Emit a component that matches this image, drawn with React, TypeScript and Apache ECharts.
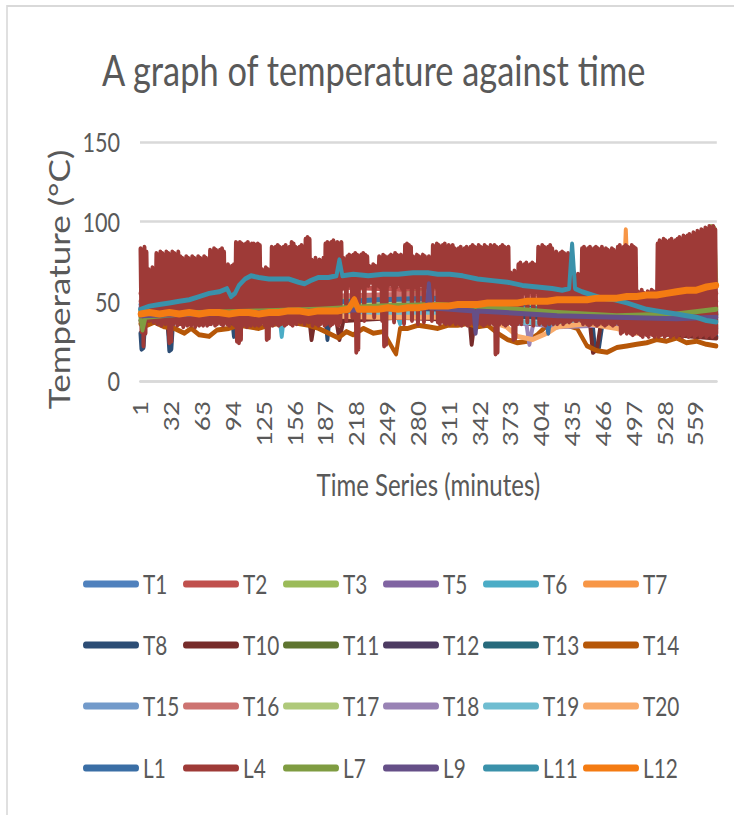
import React, { useEffect, useRef } from "react";
import * as echarts from "echarts";

// ---------- data ----------
const MINUTE_COUNT = 580;
const minutes: string[] = Array.from({ length: MINUTE_COUNT }, (_, i) => String(i + 1));
const yTicks = [0, 50, 100, 150];

type P = [number, number];

const T1: P[] = [[1,48],[20,49],[50,50],[80,51],[110,52],[140,51],[170,52],[200,53],[230,52],[260,53],[290,53],[320,52],[350,50],[380,45],[410,44],[440,46],[470,45],[500,44],[530,43],[560,42],[580,44]];
const T2: P[] = [[1,55],[40,56],[80,58],[120,57],[160,58],[200,59],[240,58],[280,57],[320,56],[360,55],[400,54],[440,53],[480,52],[520,53],[560,54],[580,55]];
const T3: P[] = [[1,38],[4,30],[8,42],[40,45],[80,47],[120,48],[160,49],[200,50],[240,53],[280,55],[320,55],[350,54],[380,44],[420,43],[460,45],[500,46],[540,47],[570,50],[575,97],[578,96],[580,60]];
const T5: P[] = [[1,46],[40,47],[90,46],[140,45],[190,46],[240,47],[290,48],[330,47],[337,35],[340,47],[380,42],[420,40],[460,41],[500,40],[540,39],[580,40]];
const T6: P[] = [[1,44],[40,45],[90,46],[140,45],[143,28],[146,45],[173,44],[175,38],[178,44],[220,45],[258,44],[262,36],[266,44],[300,46],[340,45],[380,40],[420,41],[460,40],[500,38],[540,37],[580,38]];
const T7: P[] = [[1,44],[50,45],[100,46],[150,45],[200,46],[250,47],[300,46],[350,45],[400,44],[450,45],[486,46],[489,95],[492,46],[520,45],[560,46],[580,47]];
const T8: P[] = [[1,30],[2,20],[4,21],[6,40],[28,40],[30,19],[32,20],[34,40],[93,40],[95,28],[97,40],[187,40],[189,26],[191,40],[250,42],[300,43],[350,42],[400,40],[455,40],[458,20],[462,21],[466,38],[520,36],[560,30],[580,28]];
const T10: P[] = [[1,38],[28,38],[30,26],[32,38],[97,38],[99,26],[101,38],[171,38],[173,26],[176,38],[198,38],[201,26],[205,38],[260,40],[300,39],[332,38],[334,23],[337,38],[400,36],[453,36],[456,18],[460,20],[464,36],[520,30],[560,28],[580,27]];
const T11: P[] = [[1,42],[60,44],[120,45],[180,46],[240,48],[300,49],[360,47],[420,44],[480,42],[540,41],[580,42]];
const T12: P[] = [[1,43],[60,42],[120,43],[180,44],[240,45],[300,46],[360,44],[420,42],[480,41],[540,40],[580,41]];
const T13: P[] = [[1,45],[60,46],[120,47],[180,48],[240,49],[300,50],[360,48],[420,46],[480,44],[540,42],[580,43]];
const T14: P[] = [[1,36],[8,35],[15,37],[25,34],[35,33],[45,30],[52,33],[60,29],[70,28],[78,32],[90,33],[100,35],[110,34],[120,33],[130,35],[140,36],[150,37],[160,36],[170,35],[180,33],[190,30],[200,27],[208,31],[215,29],[225,33],[235,30],[245,31],[255,20],[258,17],[262,33],[270,33],[280,35],[290,34],[300,33],[310,35],[320,35],[330,36],[340,34],[350,35],[360,30],[370,26],[380,24],[390,25],[400,29],[410,35],[420,34],[430,35],[440,33],[450,22],[460,19],[470,18],[480,21],[490,22],[500,23],[510,24],[520,26],[530,25],[540,27],[550,24],[560,25],[570,23],[580,22]];
const T15: P[] = [[1,46],[60,45],[120,46],[180,47],[240,48],[300,49],[360,47],[420,43],[480,40],[540,38],[580,39]];
const T16: P[] = [[1,50],[60,51],[120,52],[180,53],[240,54],[300,55],[360,53],[420,51],[480,50],[540,49],[580,50]];
const T17: P[] = [[1,44],[60,46],[120,47],[180,48],[240,50],[300,52],[360,51],[420,47],[480,45],[540,44],[580,46]];
const T18: P[] = [[1,42],[60,43],[120,44],[180,42],[240,43],[300,41],[350,38],[389,36],[392,23],[396,36],[420,34],[460,35],[500,33],[540,32],[580,33]];
const T19: P[] = [[1,43],[60,44],[120,45],[180,44],[240,43],[300,42],[350,40],[380,37],[420,36],[460,38],[500,36],[540,35],[580,34]];
const T20: P[] = [[1,42],[60,43],[120,42],[180,41],[240,40],[300,40],[350,38],[369,34],[380,28],[395,26],[410,30],[420,34],[450,36],[480,33],[500,30],[520,32],[540,34],[560,36],[580,35]];
const L1: P[] = [[1,45],[60,47],[120,48],[180,49],[240,51],[300,52],[340,48],[370,45],[380,44],[408,44],[411,30],[414,44],[446,42],[470,45],[500,44],[540,43],[580,42]];
// L4: every minute
const L4: number[] = [
  83,31,82,22,84,30,81,40,70,38, 69,39,71,37,70,41,80,36,79,38,
  81,35,80,37,78,36,81,38,80,24, 79,25,81,36,80,37,79,35,81,36,
  78,36,77,34,76,37,78,35,77,36, 76,35,78,37,77,34,76,36,78,35,
  77,36,76,35,78,37,77,35,76,36, 82,36,81,37,83,35,82,36,81,37,
  82,36,83,35,81,37,72,36,73,35, 71,37,72,36,73,35,87,25,86,24,
  87,26,86,35,85,36,86,34,87,36, 85,35,86,37,86,35,85,36,86,35,
  85,36,70,37,69,35,71,26,70,27, 69,36,84,35,83,37,84,36,85,35,
  84,36,83,37,84,35,85,36,83,37, 84,36,87,35,86,37,84,36,83,38,
  84,37,85,38,83,36,89,38,90,37, 89,38,76,35,75,37,77,36,74,35,
  76,36,75,37,77,35,86,36,87,37, 86,35,87,36,88,37,86,36,87,35,
  86,37,87,58,77,60,76,38,78,60, 79,61,78,40,79,60,80,18,79,20,
  78,60,79,59,80,38,79,61,78,60, 72,62,71,63,73,40,72,62,71,60,
  78,59,77,38,79,22,78,23,77,60, 78,61,79,60,78,37,80,59,79,61,
  78,60,79,58,78,36,85,60,86,59, 85,61,84,38,78,60,77,59,79,36,
  78,60,77,61,79,37,78,60,76,59, 78,61,77,38,85,60,84,59,86,37,
  85,36,84,38,85,37,86,36,84,37, 85,36,84,37,85,38,83,36,82,37,
  83,36,84,35,82,37,83,36,84,35, 82,36,84,37,85,36,84,35,83,36,
  85,37,84,36,83,35,85,36,84,37, 83,36,85,37,84,36,85,17,84,18,
  83,36,84,37,85,36,84,35,83,36, 84,37,68,36,67,26,69,27,68,36,
  73,56,74,36,72,58,73,55,74,37, 72,57,73,56,74,35,73,58,72,56,
  84,36,83,37,85,36,84,35,83,37, 84,36,85,37,83,36,80,37,81,36,
  79,37,80,38,81,36,80,37,79,38, 80,37,67,38,66,39,68,38,64,38,
  67,39,66,38,83,36,84,37,82,36, 83,35,84,36,82,37,83,36,84,35,
  83,36,82,37,84,36,82,35,83,36, 82,37,81,36,83,35,82,36,81,37,
  84,36,85,30,83,31,84,36,85,30, 84,31,83,30,85,29,84,30,83,31,
  56,30,55,29,57,28,55,30,54,29, 56,28,55,30,57,29,56,28,55,30,
  86,28,88,29,87,30,89,28,88,29, 87,30,88,28,89,29,87,30,88,28,
  89,29,90,30,88,28,91,29,90,30, 91,28,92,29,90,30,93,28,92,29,
  94,30,93,28,95,29,94,30,96,28, 95,29,97,30,96,28,97,29,95,30,
];
const L7: P[] = [[1,40],[3,32],[6,40],[60,43],[120,44],[180,45],[240,47],[300,48],[360,46],[420,43],[480,41],[540,42],[580,45]];
const L9: P[] = [[1,41],[60,42],[120,43],[180,44],[240,45],[289,46],[291,61],[293,46],[336,44],[338,30],[340,44],[420,41],[480,40],[540,39],[580,40]];
const L11: P[] = [[1,45],[10,47],[20,48],[30,49],[40,50],[50,51],[60,53],[70,55],[80,56],[88,58],[92,53],[96,55],[100,60],[106,64],[112,66],[120,65],[130,64],[140,64],[150,64],[160,62],[166,61],[172,63],[180,65],[190,65],[198,66],[201,76],[204,66],[215,67],[230,66],[245,67],[260,67],[275,68],[290,68],[300,67],[312,67],[325,66],[340,64],[355,63],[370,62],[385,60],[400,59],[415,58],[425,57],[432,58],[435,86],[438,58],[445,56],[455,54],[465,52],[478,51],[490,49],[500,47],[510,45],[520,44],[530,43],[540,42],[550,41],[560,40],[570,38],[580,37]];
const L12: P[] = [[1,42],[10,43],[20,42],[30,43],[40,42],[50,43],[60,42],[70,43],[80,43],[90,42],[100,43],[110,43],[120,42],[130,43],[140,43],[150,44],[160,44],[170,43],[180,44],[190,44],[200,44],[210,45],[216,51],[220,45],[230,45],[240,45],[250,46],[260,45],[270,46],[280,46],[290,47],[300,47],[310,47],[320,48],[330,48],[340,48],[350,49],[360,49],[370,49],[380,49],[390,50],[400,50],[410,50],[420,51],[430,51],[440,51],[450,51],[460,52],[470,52],[480,52],[490,53],[500,53],[510,54],[520,54],[530,55],[540,56],[550,57],[560,57],[570,59],[580,60]];

const seriesNames = ["T1","T2","T3","T5","T6","T7","T8","T10","T11","T12","T13","T14","T15","T16","T17","T18","T19","T20","L1","L4","L7","L9","L11","L12"];
const seriesColors = ["#4F81BD","#C0504D","#9BBB59","#8064A2","#4BACC6","#F79646","#2C4D75","#772C2A","#5F7530","#4D3B62","#276A7C","#B65708","#729ACA","#CD7371","#AFC97A","#9983B5","#6FBDD1","#F9AB6B","#3A6EA5","#9E3A37","#7F9C41","#654F87","#3A91AA","#F47B12"];
const seriesPoints: Record<string, P[]> = { T1, T2, T3, T5, T6, T7, T8, T10, T11, T12, T13, T14, T15, T16, T17, T18, T19, T20, L1, L7, L9, L11, L12 };

// ---------- layout ----------
const SCALE_X = 0.8;
const CHART_W = 918;
const CHART_H = 815;
const FONT = "Lato, 'Open Sans', sans-serif";
const GREY = "#595959";
const legendCols = [103.75, 228.75, 353.75, 478.75, 603.75, 728.75];
const legendRows = [585, 646, 707, 769];
const CAPSULE = "path://M3.5,0 L66.5,0 A3.5,3.5 0 0 1 66.5,7 L3.5,7 A3.5,3.5 0 0 1 3.5,0 Z";

export default function App() {
  const ref = useRef<HTMLDivElement>(null);
  useEffect(() => {
    if (!ref.current) return;
    const chart = echarts.init(ref.current, undefined, { renderer: "svg" });

    const series = seriesNames.map((name, k) => {
      const data = name === "L4"
        ? L4.map((v, i) => [i, v])
        : seriesPoints[name].map(([m, v]) => [m - 1, v]);
      return {
        name,
        type: "line",
        data,
        showSymbol: false,
        symbol: "none",
        silent: true,
        color: seriesColors[k],
        lineStyle: { color: seriesColors[k], width: name === "L12" ? 7 : 5, cap: "round", join: "round" },
      };
    });

    const legends = seriesNames.map((name, k) => ({
      data: [name],
      left: legendCols[k % 6],
      top: legendRows[Math.floor(k / 6)] - 14,
      orient: "horizontal",
      padding: 0,
      itemGap: 0,
      itemWidth: 70,
      itemHeight: 7,
      icon: CAPSULE,
      selectedMode: false,
      itemStyle: { borderWidth: 0 },
      textStyle: { fontFamily: FONT, fontSize: 26, color: GREY, padding: [0, 0, 0, 0] },
    }));

    chart.setOption({
      animation: false,
      backgroundColor: "#ffffff",
      title: {
        text: "A graph of temperature against time",
        left: 127.5,
        top: 48,
        padding: 0,
        textStyle: { fontFamily: FONT, fontSize: 43, fontWeight: "normal", color: GREY },
      },
      graphic: [
        {
          type: "rect",
          shape: { x: 8.75, y: 6, width: 3000, height: 3000 },
          style: { fill: "none", stroke: "#D9D9D9", lineWidth: 2 },
          silent: true,
          z: -10,
        },
      ],
      legend: legends,
      grid: { left: 175, right: CHART_W - 896, top: 142, bottom: CHART_H - 381, containLabel: false },
      xAxis: {
        type: "category",
        data: minutes,
        boundaryGap: true,
        name: "Time Series (minutes)",
        nameLocation: "middle",
        nameGap: 88,
        nameTextStyle: { fontFamily: FONT, fontSize: 30, color: GREY },
        axisLine: { lineStyle: { color: "#D9D9D9", width: 2.5 } },
        axisTick: { show: false },
        axisLabel: { interval: 30, rotate: 90, margin: 20, fontFamily: FONT, fontSize: 26, color: GREY },
        splitLine: { show: false },
      },
      yAxis: {
        type: "value",
        min: yTicks[0],
        max: yTicks[yTicks.length - 1],
        interval: 50,
        name: "Temperature (\u00B0C)",
        nameLocation: "middle",
        nameGap: 82,
        nameTextStyle: { fontFamily: FONT, fontSize: 35, color: GREY, padding: [0, 36, 0, 0] },
        axisLine: { show: false },
        axisTick: { show: false },
        axisLabel: { margin: 25, fontFamily: FONT, fontSize: 27, color: GREY },
        splitLine: { lineStyle: { color: "#D9D9D9", width: 2.5 } },
      },
      series,
    });
    return () => chart.dispose();
  }, []);

  return (
    <div style={{ position: "fixed", left: 0, top: 0, width: 734, height: CHART_H, overflow: "hidden", background: "#fff" }}>
      <div
        ref={ref}
        style={{ width: CHART_W, height: CHART_H, transform: `scaleX(${SCALE_X})`, transformOrigin: "0 0" }}
      />
    </div>
  );
}
